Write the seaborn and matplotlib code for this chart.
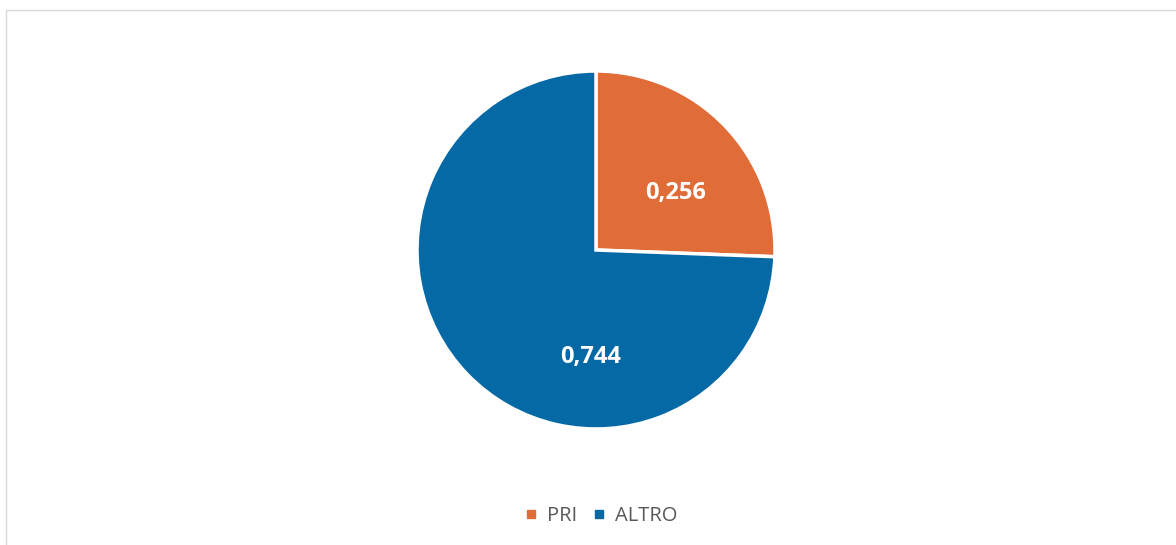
import matplotlib
matplotlib.use("Agg")
import matplotlib.pyplot as plt
from matplotlib.lines import Line2D
import seaborn as sns

sns.set_theme(style="white")
plt.rcParams['font.family'] = ['Open Sans', 'DejaVu Sans']

labels = ['PRI', 'ALTRO']
values = [0.256, 0.744]
colors = ['#E06C37', '#0569A6']
# label anchor points inside the pie (as placed in the original chart)
label_pos = [(0.447, 0.318), (-0.028, -0.598)]


def main():
    fig = plt.figure(figsize=(11.76, 5.45), dpi=100)
    ax = fig.add_axes([0.3546, 0.2128, 0.3044, 0.657])

    wedges, _, autotexts = ax.pie(
        values, colors=colors, startangle=90, counterclock=False,
        radius=1, wedgeprops=dict(edgecolor='white', linewidth=2.5),
        autopct=lambda p: ('%.3f' % (p / 100)).replace('.', ','),
        textprops=dict(color='white', fontsize=17, fontweight='bold'))
    for t, pos in zip(autotexts, label_pos):
        t.set_position(pos)
    ax.set_xlim(-1, 1)
    ax.set_ylim(-1, 1)
    ax.set_aspect('equal')

    handles = [Line2D([0], [0], marker='s', linestyle='', markersize=6,
                      markerfacecolor=c, markeredgecolor=c) for c in colors]
    fig.legend(handles, labels, loc='center', bbox_to_anchor=(0.511, 0.053),
               ncol=2, frameon=False, fontsize=14.5, handlelength=0.6,
               handletextpad=0.5, columnspacing=0.8, labelcolor='#595959')

    # chart border (top and left edges visible)
    fig.add_artist(Line2D([5.5 / 1176, 1], [1 - 10 / 545, 1 - 10 / 545],
                          transform=fig.transFigure, color='#D9D9D9', lw=1))
    fig.add_artist(Line2D([5.5 / 1176, 5.5 / 1176], [0, 1 - 10 / 545],
                          transform=fig.transFigure, color='#D9D9D9', lw=1))

    fig.savefig('out.png', dpi=100, facecolor='white')


if __name__ == '__main__':
    main()
